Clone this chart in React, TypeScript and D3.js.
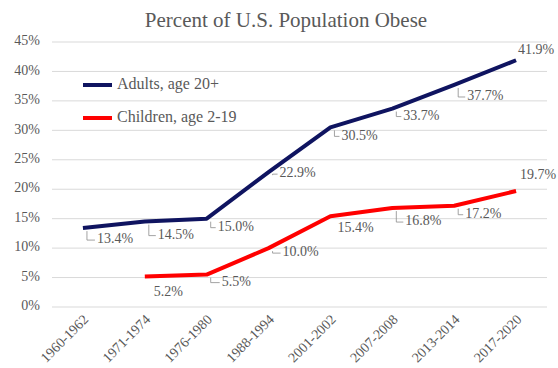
import React, { useEffect, useRef } from 'react'
import { select, scaleBand, scaleLinear, line } from 'd3'

const periods = ['1960-1962', '1971-1974', '1976-1980', '1988-1994', '2001-2002', '2007-2008', '2013-2014', '2017-2020']
const adults = [13.4, 14.5, 15.0, 22.9, 30.5, 33.7, 37.7, 41.9]
const children = [null, 5.2, 5.5, 10.0, 15.4, 16.8, 17.2, 19.7]
const yTicks = [0, 5, 10, 15, 20, 25, 30, 35, 40, 45]
const seriesNames = ['Adults, age 20+', 'Children, age 2-19']

// label placement relative to the point: [dx, dy, leader?]
const adultLabelPos = [[14, 12, 1], [13, 14, 1], [11, 9, 1], [11, 2, 1], [11, 9, 1], [11, 8, 1], [13, 12, 1], [2, -9, 0]]
const childLabelPos = [[0, 0, 0], [9, 16, 0], [15, 8, 1], [14, 5, 1], [7, 12, 0], [13, 14, 1], [11, 9, 1], [4, -15, 0]]

function App() {
  const ref = useRef(null)

  useEffect(() => {
    const svg = select(ref.current)
    svg.selectAll('*').remove()

    const font = 'Liberation Serif, DejaVu Serif, Times New Roman, serif'
    const gray = '#595959'

    const x = scaleBand().domain(periods).range([52, 547])
    const y = scaleLinear().domain([0, 45]).range([307, 42])
    const cx = d => x(d) + x.bandwidth() / 2

    // title
    svg.append('text')
      .attr('x', 286).attr('y', 22)
      .attr('text-anchor', 'middle')
      .attr('dominant-baseline', 'middle')
      .attr('font-family', font).attr('font-size', 21)
      .attr('fill', gray)
      .text('Percent of U.S. Population Obese')

    // gridlines + y ticks
    yTicks.forEach(t => {
      svg.append('line')
        .attr('x1', 52).attr('x2', 547)
        .attr('y1', y(t)).attr('y2', y(t))
        .attr('stroke', '#d9d9d9').attr('stroke-width', 1)
      svg.append('text')
        .attr('x', 40).attr('y', y(t))
        .attr('text-anchor', 'end')
        .attr('dominant-baseline', 'middle')
        .attr('font-family', font).attr('font-size', 14)
        .attr('fill', gray)
        .text(t + '%')
    })

    // x labels
    periods.forEach(p => {
      svg.append('text')
        .attr('transform', `translate(${cx(p) + 4},${318}) rotate(-45)`)
        .attr('text-anchor', 'end')
        .attr('dominant-baseline', 'middle')
        .attr('font-family', font).attr('font-size', 14)
        .attr('fill', gray)
        .text(p)
    })

    const series = [
      { values: adults, color: '#0f1460', pos: adultLabelPos },
      { values: children, color: '#ff0000', pos: childLabelPos },
    ]

    const lineGen = line()
      .defined(d => d[1] != null)
      .x(d => cx(d[0]))
      .y(d => y(d[1]))

    series.forEach(s => {
      svg.append('path')
        .datum(periods.map((p, i) => [p, s.values[i]]))
        .attr('d', lineGen)
        .attr('fill', 'none')
        .attr('stroke', s.color)
        .attr('stroke-width', 4)
        .attr('stroke-linejoin', 'round')
    })

    // data labels
    series.forEach(s => {
      s.values.forEach((v, i) => {
        if (v == null) return
        const px = cx(periods[i])
        const py = y(v)
        const [dx, dy, leader] = s.pos[i]
        const tx = px + dx
        const ty = py + dy
        if (leader) {
          svg.append('path')
            .attr('d', `M${px + 4},${py + 3}V${ty}H${tx - 2}`)
            .attr('fill', 'none')
            .attr('stroke', '#8c8c8c')
            .attr('stroke-width', 0.8)
        }
        svg.append('text')
          .attr('x', tx).attr('y', ty)
          .attr('dominant-baseline', 'middle')
          .attr('font-family', font).attr('font-size', 14)
          .attr('fill', gray)
          .text(v.toFixed(1) + '%')
      })
    })

    // legend
    series.forEach((s, i) => {
      const ly = 85 + i * 33
      svg.append('line')
        .attr('x1', 83).attr('x2', 112)
        .attr('y1', ly).attr('y2', ly)
        .attr('stroke', s.color).attr('stroke-width', 4)
      svg.append('text')
        .attr('x', 117).attr('y', ly)
        .attr('dominant-baseline', 'middle')
        .attr('font-family', font).attr('font-size', 16)
        .attr('fill', gray)
        .text(seriesNames[i])
    })
  }, [])

  return (
    <svg ref={ref} width={558} height={368}
      style={{ position: 'absolute', left: 0, top: 0, background: '#fff' }} />
  )
}

export default App
